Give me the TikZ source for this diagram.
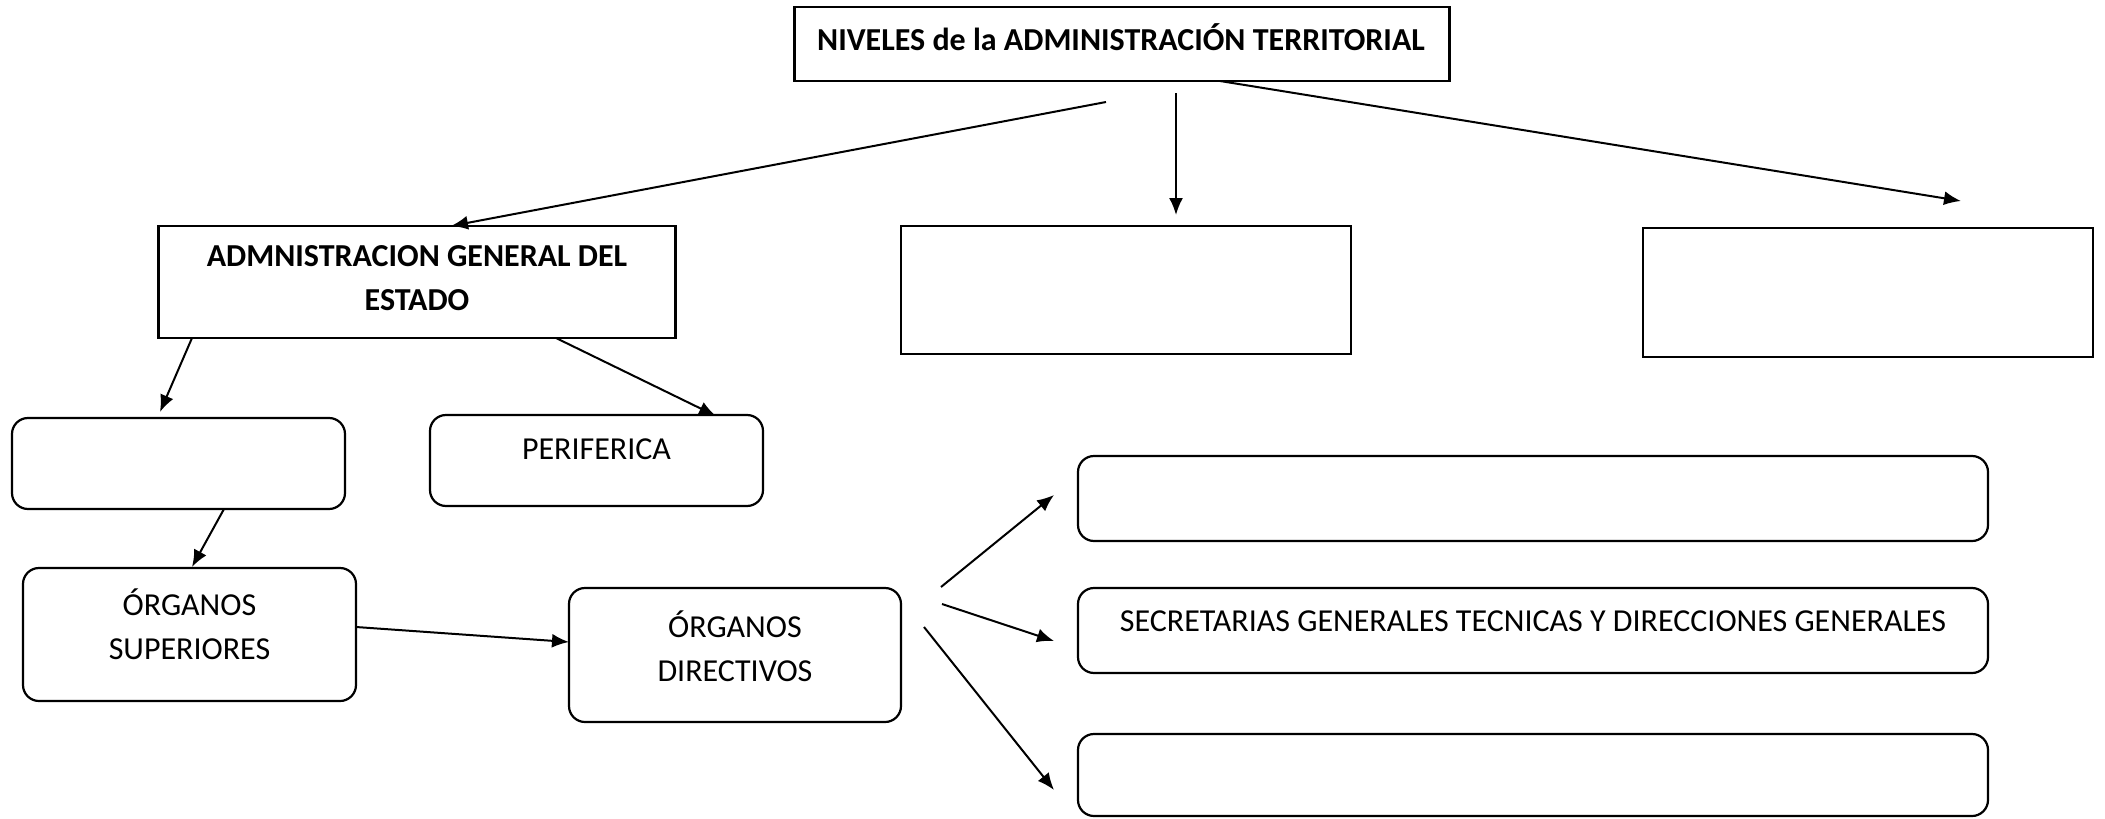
\documentclass[tikz,border=0pt]{standalone}
\usepackage{fontspec}
\setmainfont{Carlito}
\usetikzlibrary{arrows.meta}
\begin{document}
\begin{tikzpicture}[x=0.5pt,y=-0.5pt,
  sqbox/.style={draw, line width=1.1pt, rectangle, inner sep=0pt},
  rbox/.style={draw, line width=1.1pt, rounded corners=8pt, inner sep=0pt},
  txt/.style={inner sep=0pt, align=center, font=\fontsize{16}{22}\selectfont},
  btxt/.style={txt, font=\fontsize{16}{22}\selectfont\bfseries},
  arr/.style={-{Latex[length=8.5pt,width=7pt]}, line width=1pt}]
\fill[white] (0,0) rectangle (2105,819);
\useasboundingbox (0,0) rectangle (2105,819);
% boxes
\node[sqbox, minimum width=327.5pt, minimum height=37pt] (top) at (1122,44) {};
\node[btxt] (topT) at (1121,37) {NIVELES de la ADMINISTRACIÓN TERRITORIAL};
\node[sqbox, minimum width=258.5pt, minimum height=56pt] (admin) at (417,282) {};
\node[btxt] (adminT) at (417,278) {ADMNISTRACION GENERAL DEL\\ESTADO};
\node[sqbox, minimum width=225pt, minimum height=64pt] (mid) at (1126,290) {};
\node[sqbox, minimum width=225pt, minimum height=64.5pt] (right) at (1868,292.5) {};
\node[rbox, minimum width=166.5pt, minimum height=45.5pt] (cen) at (178.5,463.5) {};
\node[rbox, minimum width=166.5pt, minimum height=45.5pt] (peri) at (596.5,460.5) {};
\node[txt] (periT) at (596.5,449) {PERIFERICA};
\node[rbox, minimum width=166.5pt, minimum height=66.5pt] (sup) at (189.5,634.5) {};
\node[txt] (supT) at (189.5,624) {ÓRGANOS\\SUPERIORES};
\node[rbox, minimum width=166pt, minimum height=67pt] (dir) at (735,655) {};
\node[txt] (dirT) at (735,646) {ÓRGANOS\\DIRECTIVOS};
\node[rbox, minimum width=455pt, minimum height=42.5pt] (b1) at (1533,498.5) {};
\node[rbox, minimum width=455pt, minimum height=42.5pt] (b2) at (1533,630.5) {};
\node[txt] (b2T) at (1533,621) {SECRETARIAS GENERALES TECNICAS Y DIRECCIONES GENERALES};
\node[rbox, minimum width=455pt, minimum height=41pt] (b3) at (1533,775) {};
% connector ends
\coordinate (a1s) at (1106,102);
\coordinate (a1e) at (451,226);
\coordinate (a2s) at (1176,93);
\coordinate (a2e) at (1176,215);
\coordinate (a3s) at (1220,81);
\coordinate (a3e) at (1961,201);
\coordinate (a4s) at (192,338);
\coordinate (a4e) at (160,412);
\coordinate (a5s) at (556,338);
\coordinate (a5e) at (716,416);
\coordinate (a6s) at (224,509);
\coordinate (a6e) at (192,567);
\coordinate (a7s) at (356,627);
\coordinate (a7e) at (569,642);
\coordinate (a8s) at (941,587);
\coordinate (a8e) at (1054,495);
\coordinate (a9s) at (942,604);
\coordinate (a9e) at (1054,641);
\coordinate (a10s) at (924,627);
\coordinate (a10e) at (1054,790);
% connectors
\draw[arr] (a1s) -- (a1e);
\draw[arr] (a2s) -- (a2e);
\draw[arr] (a3s) -- (a3e);
\draw[arr] (a4s) -- (a4e);
\draw[arr] (a5s) -- (a5e);
\draw[arr] (a6s) -- (a6e);
\draw[arr] (a7s) -- (a7e);
\draw[arr] (a8s) -- (a8e);
\draw[arr] (a9s) -- (a9e);
\draw[arr] (a10s) -- (a10e);
\end{tikzpicture}
\end{document}
